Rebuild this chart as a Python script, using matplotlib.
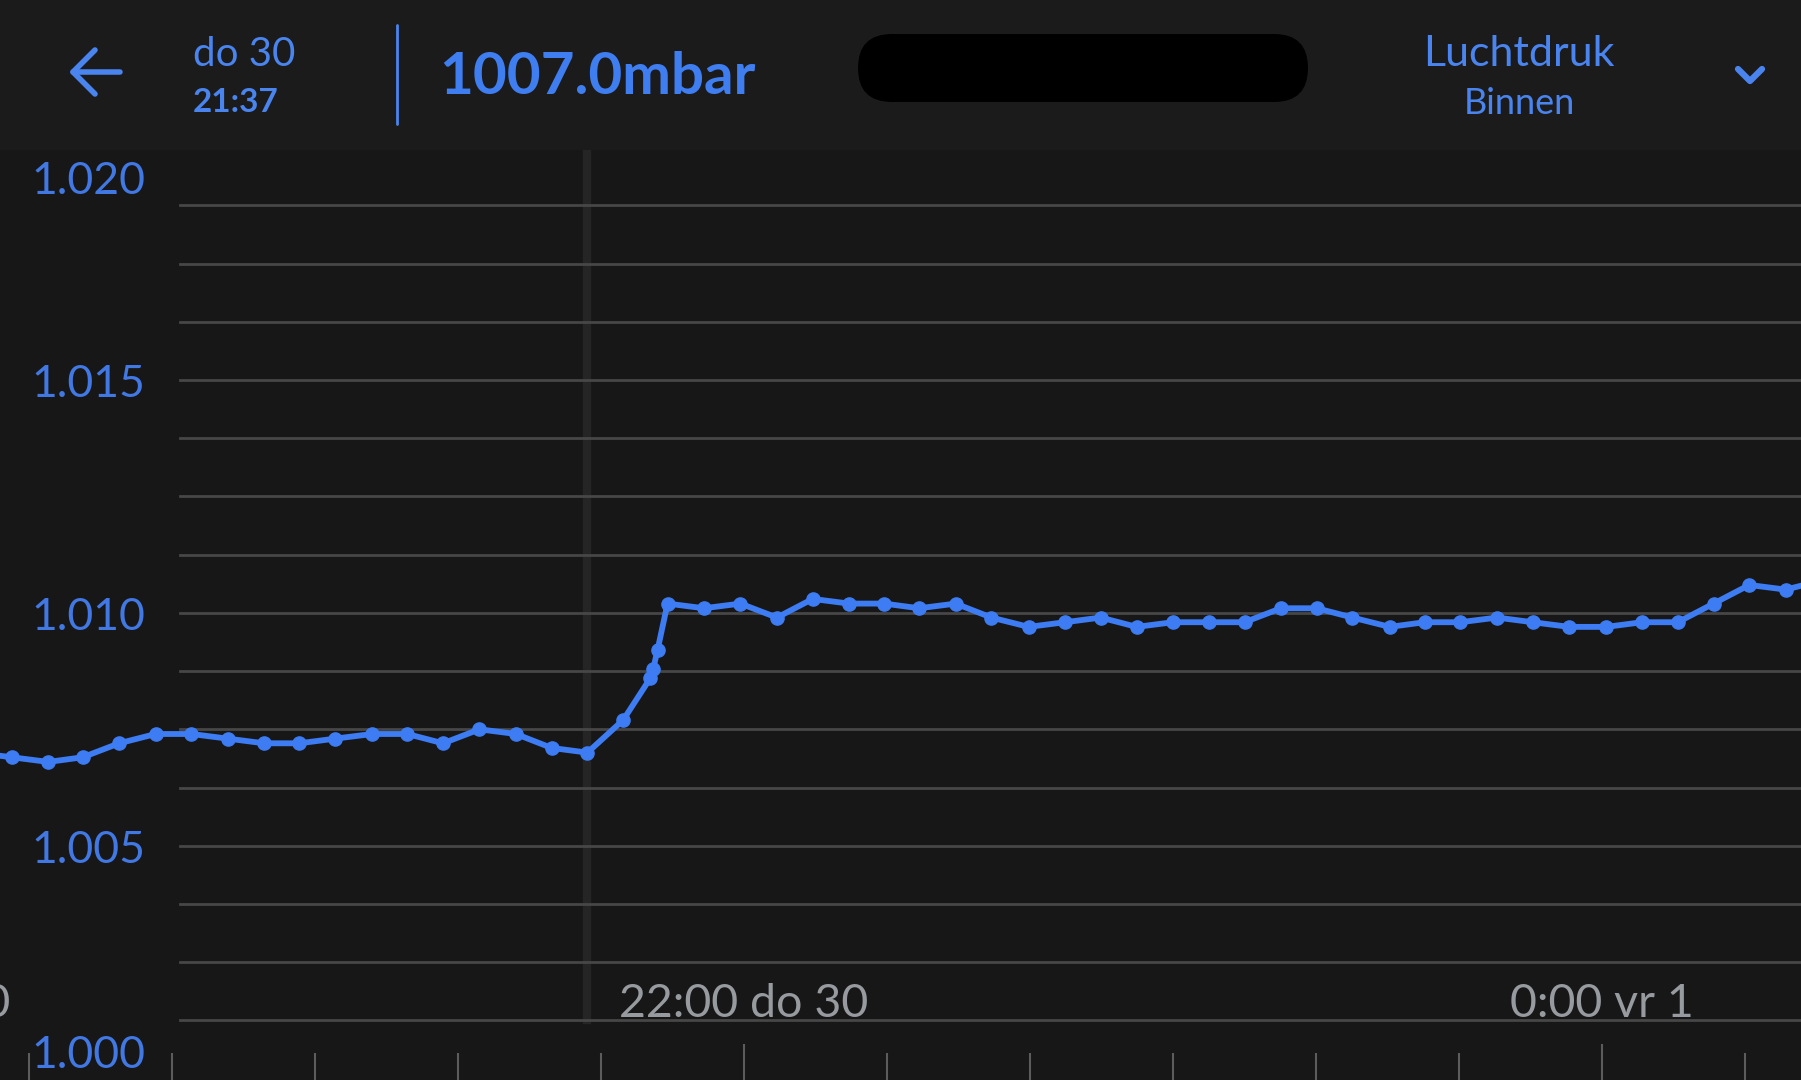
import matplotlib
matplotlib.use('Agg')
import matplotlib.pyplot as plt
import matplotlib.transforms as mtransforms
from matplotlib.lines import Line2D
from matplotlib.patches import FancyBboxPatch
from matplotlib.ticker import MultipleLocator
import numpy as np

plt.rcParams['font.family'] = ['Lato', 'DejaVu Sans']

# minuten na 20:00 (do 30) en luchtdruk binnen in mbar
minuten = [12.5, 17.6, 22.7, 27.5, 32.6, 37.7, 42.7, 47.8, 52.9, 57.8,
           62.8, 68.0, 72.9, 77.9, 83.0, 88.1, 93.1, 98.1, 103.1, 106.9,
           107.3, 107.9, 109.3, 114.4, 119.5, 124.6, 129.6, 134.7, 139.6, 144.5,
           149.6, 154.6, 159.8, 164.9, 169.9, 174.9, 180.0, 185.0, 190.0, 195.1,
           200.1, 205.1, 210.3, 215.2, 220.2, 225.3, 230.3, 235.4, 240.6, 245.6,
           250.6, 255.6, 260.6, 265.7, 270.8]
druk = [1007.0, 1006.9, 1006.8, 1006.9, 1007.2, 1007.4, 1007.4, 1007.3, 1007.2, 1007.2,
        1007.3, 1007.4, 1007.4, 1007.2, 1007.5, 1007.4, 1007.1, 1007.0, 1007.7, 1008.6,
        1008.8, 1009.2, 1010.2, 1010.1, 1010.2, 1009.9, 1010.3, 1010.2, 1010.2, 1010.1,
        1010.2, 1009.9, 1009.7, 1009.8, 1009.9, 1009.7, 1009.8, 1009.8, 1009.8, 1010.1,
        1010.1, 1009.9, 1009.7, 1009.8, 1009.8, 1009.9, 1009.8, 1009.7, 1009.7, 1009.8,
        1009.8, 1010.2, 1010.6, 1010.5, 1010.7]

y_waarden = [1000, 1005, 1010, 1015, 1020]
y_labels = ['1.000', '1.005', '1.010', '1.015', '1.020']
x_label_pos = [0, 120, 240]
x_labels = ['20:00 do 30', '22:00 do 30', '0:00 vr 1']
gekozen = 98.1          # geselecteerd punt (21:37)

W, H = 1801, 1080
kop_bg = '#1b1b1b'
grafiek_bg = '#171717'
blauw = '#4a84ee'
lijn_blauw = '#3d7cf2'

fig = plt.figure(figsize=(W / 100, H / 100), dpi=100, facecolor=kop_bg)


def fx(x):
    return x / W


def fy(y):
    return 1 - y / H


# grafiek gebied
ax = fig.add_axes([0, 0, 1, 930 / H], facecolor=grafiek_bg)
for s in ax.spines.values():
    s.set_visible(False)

# horizontale hulplijnen
for g in np.arange(1001.25, 1019.0, 1.25):
    ax.axhline(g, xmin=180 / W, xmax=1, color='#474747', lw=2, zorder=1)

# cursor lijn
ax.axvline(gekozen, ymin=60 / 930, ymax=1, color='#252525', lw=6, zorder=0.5)

ax.plot(minuten, druk, color=lijn_blauw, lw=4.2, marker='o', ms=9.5, zorder=3)

# x ticks (set_xticks zet de limieten anders, dus eerst)
ax.set_xticks(x_label_pos)
ax.xaxis.set_minor_locator(MultipleLocator(20))
ax.tick_params(axis='x', which='major', direction='in', length=26, width=1.5,
               color='#5c5c5c', labelbottom=False)
ax.tick_params(axis='x', which='minor', direction='in', length=19.4, width=1.5,
               color='#5c5c5c')
ax.set_yticks([])
ax.set_xlim(15.94, 267.83)
lo, hi = 999.97, 1019.94
ax.set_ylim(lo, hi)

trans_y = mtransforms.blended_transform_factory(ax.transAxes, ax.transData)
for v, lab in zip(y_waarden, y_labels):
    yl = min(max(v, lo + 0.62), hi - 0.57) - 0.1
    ax.text(88 / W, yl, lab, transform=trans_y, ha='center', va='center',
            fontsize=32, color='#4178e3')

trans_x = mtransforms.blended_transform_factory(ax.transData, ax.transAxes)
for m, lab in zip(x_label_pos, x_labels):
    ax.text(m, 0.082, lab, transform=trans_x, ha='center', va='center',
            fontsize=33.5, color='#979b9f', clip_on=False)

# kopregel
def lijn(xs, ys, lw=3.5, kleur=blauw):
    fig.add_artist(Line2D([fx(x) for x in xs], [fy(y) for y in ys], lw=lw,
                          color=kleur, solid_capstyle='round', solid_joinstyle='round'))


lijn([73, 120], [72, 72], lw=4)
lijn([95, 73, 95], [50, 72, 94], lw=4)
lijn([397, 397], [25, 124], lw=2)
lijn([1738, 1750, 1762], [69, 81, 69], lw=4.5)

fig.text(fx(193), fy(55), 'do 30', ha='left', va='center', fontsize=29, color=blauw)
fig.text(fx(193), fy(103), '21:37', ha='left', va='center', fontsize=24,
         color=blauw, fontweight='bold')
fig.text(fx(439), fy(78), '1007.0mbar', ha='left', va='center', fontsize=42,
         color='#3f7ef0', fontweight='bold')
fig.text(fx(1519), fy(54), 'Luchtdruk', ha='center', va='center', fontsize=31, color=blauw)
fig.text(fx(1519), fy(104), 'Binnen', ha='center', va='center', fontsize=26, color=blauw)

# zwarte vlek
vlek = FancyBboxPatch((858, H - 102), 450, 68, boxstyle='round,pad=0,rounding_size=34',
                      transform=mtransforms.IdentityTransform(), facecolor='black',
                      edgecolor='none')
fig.add_artist(vlek)

fig.savefig('out.png', dpi=100, facecolor=kop_bg)
